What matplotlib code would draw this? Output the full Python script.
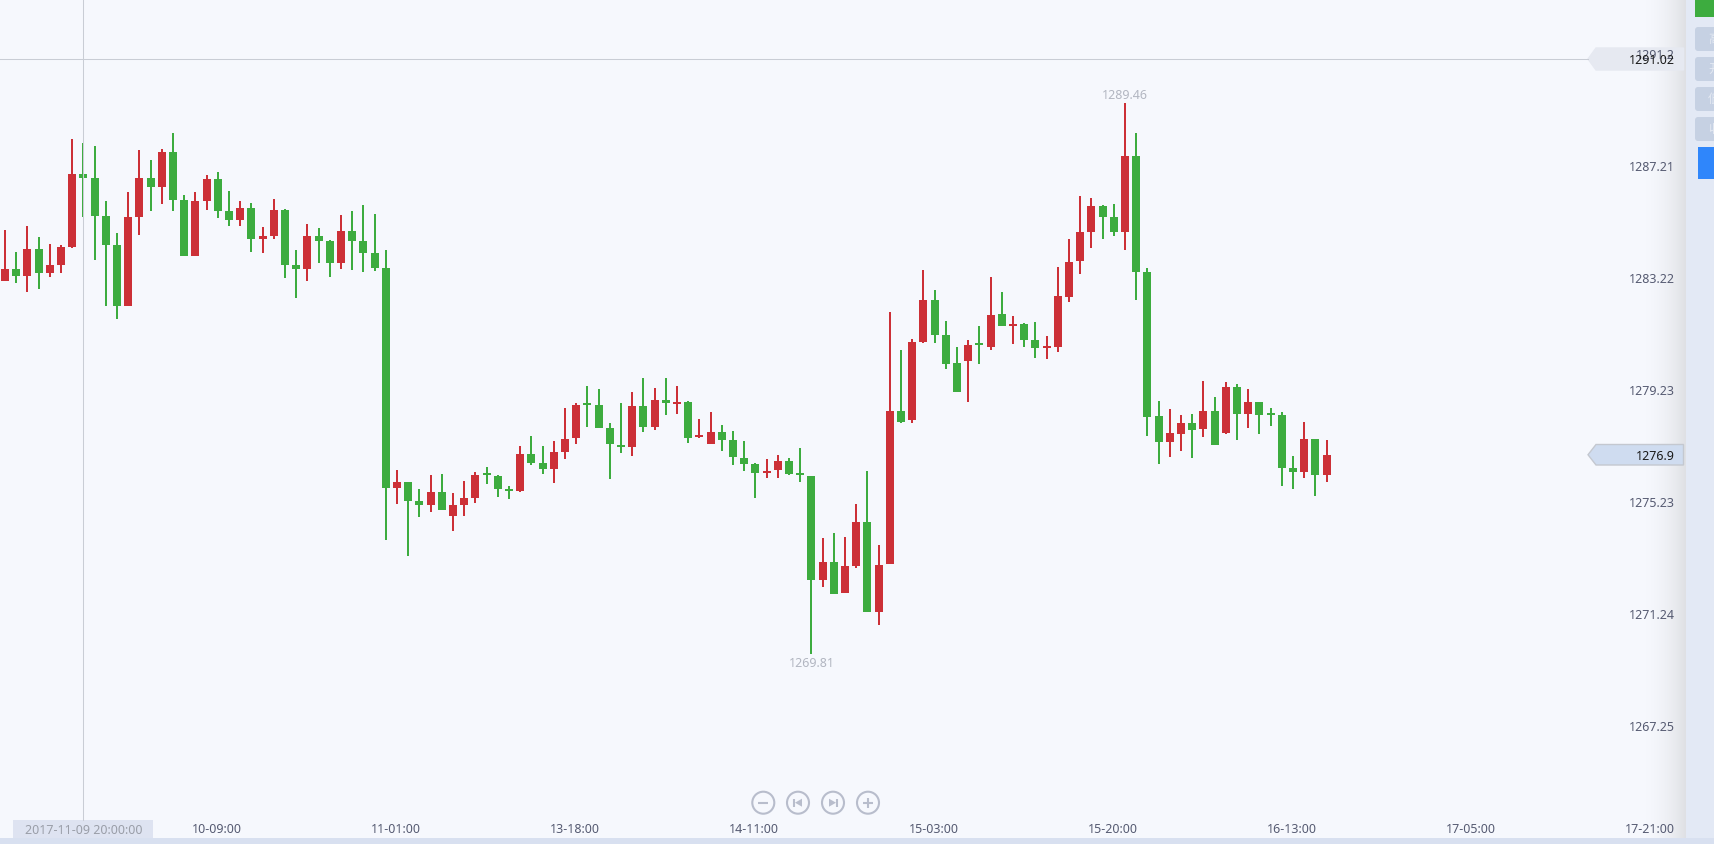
import numpy as np
import matplotlib
matplotlib.use("Agg")
import matplotlib.pyplot as plt
from matplotlib.patches import Rectangle, Polygon, Ellipse, FancyBboxPatch
from matplotlib.transforms import Affine2D

W, H = 1715, 844

highs = [
 1284.93,1284.15,1285.07,1284.68,1284.43,1284.40,1288.17,1288.03,1287.92,1285.96,
 1284.82,1286.28,1287.78,1287.42,1287.82,1288.39,1286.18,1286.28,1286.89,1287.00,
 1286.32,1285.96,1285.89,1285.04,1286.03,1285.68,1284.22,1285.14,1285.00,1284.57,
 1285.46,1285.61,1285.82,1285.50,1284.22,1276.38,1275.95,1275.70,1276.20,1276.24,
 1275.56,1275.99,1276.31,1276.49,1276.20,1275.81,1277.24,1277.59,1277.24,1277.41,
 1278.59,1278.77,1279.37,1279.27,1278.06,1278.77,1279.16,1279.66,1279.30,1279.66,
 1279.37,1278.84,1278.20,1278.45,1277.98,1277.77,1277.41,1276.63,1276.77,1276.92,
 1276.81,1277.16,1276.17,1273.96,1274.14,1273.99,1275.17,1276.34,1273.71,1282.01,
 1280.66,1281.05,1283.51,1282.79,1281.69,1280.76,1281.01,1281.51,1283.26,1282.72,
 1281.87,1281.62,1281.65,1281.15,1283.61,1284.61,1286.14,1286.07,1285.82,1285.86,
 1289.46,1288.39,1283.58,1278.84,1278.55,1278.34,1278.38,1279.55,1278.98,1279.52,
 1279.44,1279.27,1278.80,1278.59,1278.45,1276.88,1278.09,1277.48,1277.45]
body_tops = [
 1283.54,1283.54,1284.25,1284.25,1283.68,1284.32,1286.93,1286.93,1286.78,1285.43,
 1284.40,1285.39,1286.78,1286.78,1287.71,1287.71,1286.00,1285.96,1286.75,1286.75,
 1285.61,1285.71,1285.71,1284.72,1285.64,1285.64,1283.68,1284.72,1284.72,1284.54,
 1284.89,1284.89,1284.54,1284.11,1283.58,1275.95,1275.95,1275.28,1275.60,1275.60,
 1275.13,1275.38,1276.20,1276.27,1276.17,1275.70,1276.95,1276.95,1276.63,1277.02,
 1277.49,1278.70,1278.77,1278.70,1277.88,1277.27,1278.66,1278.66,1278.87,1278.87,
 1278.80,1278.80,1277.63,1277.73,1277.73,1277.45,1276.81,1276.59,1276.35,1276.70,
 1276.70,1276.27,1276.17,1273.10,1273.10,1272.96,1274.53,1274.53,1273.00,1278.48,
 1278.48,1280.94,1282.44,1282.44,1281.19,1280.19,1280.83,1280.91,1281.90,1281.94,
 1281.58,1281.58,1281.01,1280.80,1282.58,1283.79,1284.86,1285.79,1285.79,1285.39,
 1287.57,1287.57,1283.43,1278.30,1277.70,1278.05,1278.05,1278.48,1278.48,1279.34,
 1279.34,1278.80,1278.80,1278.41,1278.34,1276.45,1277.48,1277.48,1276.92]
body_bottoms = [
 1283.11,1283.29,1283.29,1283.40,1283.40,1283.68,1284.32,1286.78,1285.43,1284.40,
 1282.22,1282.22,1285.39,1286.46,1286.46,1286.00,1284.00,1284.00,1285.96,1285.61,
 1285.29,1285.29,1284.61,1284.61,1284.72,1283.68,1283.54,1283.54,1284.54,1283.75,
 1283.75,1284.54,1284.11,1283.58,1275.74,1275.74,1275.28,1275.13,1275.13,1274.96,
 1274.74,1275.13,1275.38,1276.20,1275.70,1275.63,1275.63,1276.63,1276.42,1276.42,
 1277.02,1277.52,1278.70,1277.88,1277.31,1277.20,1277.20,1277.91,1277.91,1278.77,
 1278.73,1277.52,1277.56,1277.31,1277.45,1276.84,1276.59,1276.27,1276.27,1276.38,
 1276.24,1276.20,1272.46,1272.46,1271.96,1272.00,1272.96,1271.32,1271.32,1273.03,
 1278.09,1278.16,1280.94,1281.19,1280.16,1279.16,1280.26,1280.83,1280.76,1281.51,
 1281.51,1281.01,1280.73,1280.73,1280.76,1282.54,1283.83,1284.86,1285.39,1284.86,
 1284.86,1283.43,1278.27,1277.38,1277.38,1277.66,1277.81,1277.84,1277.27,1277.70,
 1278.38,1278.38,1278.34,1278.34,1276.45,1276.31,1276.31,1276.20,1276.20]
lows = [
 1283.11,1283.04,1282.72,1282.83,1283.26,1283.40,1284.29,1285.39,1283.86,1282.22,
 1281.76,1282.22,1284.75,1285.61,1285.86,1285.61,1284.00,1284.00,1285.64,1285.36,
 1285.07,1285.07,1284.15,1284.11,1284.61,1283.22,1282.51,1283.11,1283.75,1283.26,
 1283.54,1283.51,1283.43,1283.47,1273.89,1275.17,1273.32,1274.71,1274.88,1274.96,
 1274.21,1274.74,1275.21,1275.88,1275.42,1275.35,1275.60,1276.56,1276.24,1275.92,
 1276.77,1277.31,1277.91,1277.88,1276.06,1276.99,1276.88,1277.73,1277.81,1278.34,
 1278.38,1277.34,1277.52,1277.31,1277.06,1276.56,1276.35,1275.38,1276.10,1276.10,
 1276.20,1275.95,1269.81,1272.21,1271.96,1272.00,1272.89,1271.32,1270.86,1273.03,
 1278.05,1278.05,1280.91,1280.91,1279.98,1279.16,1278.80,1280.16,1280.66,1281.51,
 1280.87,1280.76,1280.37,1280.33,1280.58,1282.37,1283.36,1284.29,1284.61,1284.72,
 1284.22,1282.44,1277.59,1276.59,1276.84,1277.06,1276.81,1277.56,1277.27,1277.66,
 1277.45,1277.88,1277.66,1277.95,1275.81,1275.70,1276.10,1275.45,1275.95]
directions = ("RGRGRRRGGG" "GRRGRGGRRG" "GRGRRGGRGG" "RGGGGRGGRG" "RRRGGGRGGR"
              "RRGGGGRGRG" "RGRRGGGGRR" "GGGRGRRGRR" "GRRGGGRGRG" "RGGRRRRRGG"
              "RGGGRRGRGR" "GRGGGGRGR")

y_ticks = [1291.2, 1287.21, 1283.22, 1279.23, 1275.23, 1271.24, 1267.25]
y_labels = ["1291.2", "1287.21", "1283.22", "1279.23", "1275.23", "1271.24", "1267.25"]
x_tick_pos = [19, 35, 51, 67, 83, 99, 115, 131, 147]
x_labels = ["10-09:00", "11-01:00", "13-18:00", "14-11:00", "15-03:00",
            "15-20:00", "16-13:00", "17-05:00", "17-21:00"]
side_labels = ["高", "开", "低", "收"]
cross_price = 1291.02
last_price = 1276.9
cross_index = 7
cross_time = "2017-11-09 20:00:00"

BG = "#f6f8fd"
RED = "#cc3037"
GREEN = "#3dac3f"
TXT = "#565b72"
FS = 9.0
plt.rcParams["font.family"] = ["Noto Sans", "Noto Sans CJK SC", "DejaVu Sans"]

fig = plt.figure(figsize=(W / 100, H / 100), dpi=100, facecolor=BG)
ax = fig.add_axes([0, 0, 1, 1], facecolor=BG)
for s in ax.spines.values():
    s.set_visible(False)

PX_PER_BAR = 11.2
PX_PER_UNIT = 28.07
x0, y0 = 5.0, 1293.124
xlim = (-x0 / PX_PER_BAR, (W - x0) / PX_PER_BAR)
ylim = (y0 - H / PX_PER_UNIT, y0)


def X(p):
    return p / W


def Y(p):
    return 1 - p / H


def rect(x1, y1, x2, y2, color, z=1.0, **kw):
    ax.add_patch(Rectangle((X(x1), Y(y2)), (x2 - x1) / W, (y2 - y1) / H,
                           transform=ax.transAxes, facecolor=color, edgecolor="none",
                           zorder=z, clip_on=False, **kw))


idx = np.arange(len(highs))
colors = [RED if d == "R" else GREEN for d in directions]
ax.vlines(idx, lows, highs, colors=colors, linewidth=2 * 0.72, zorder=2, antialiased=False)
ax.bar(idx, np.array(body_tops) - np.array(body_bottoms), bottom=body_bottoms,
       width=8 / PX_PER_BAR, color=colors, linewidth=0, zorder=2.1, antialiased=False)

ax.set_xlim(*xlim)
ax.set_ylim(*ylim)

# right side shade and panel
grad = np.zeros((1, 64, 4))
grad[..., :3] = 0.55
grad[..., 3] = np.linspace(0, 1, 64) ** 2 * 0.22
ax.imshow(grad, extent=(X(1640), X(1686), Y(838), 1), transform=ax.transAxes,
          aspect="auto", zorder=0.5, interpolation="bilinear")
ax.set_xlim(*xlim)
ax.set_ylim(*ylim)
rect(1686, 0, 1715, 844, "#e3e9f5", z=0.8)
rect(0, 838, 1715, 844, "#d8e0f0", z=0.9)

rect(1695, 0, 1715, 17, GREEN, z=1)
px_to_axes = Affine2D().scale(1 / W, 1 / H) + ax.transAxes
for k, lab in enumerate(side_labels):
    top = 27 + 30 * k
    ax.add_patch(FancyBboxPatch((1695, H - top - 24), 30, 24,
                                boxstyle="round,pad=0,rounding_size=3",
                                facecolor="#c6d1e3", edgecolor="none",
                                transform=px_to_axes, zorder=1))
    ax.text(X(1708), Y(top + 12), lab, transform=ax.transAxes, color="#e4e9f2", fontsize=8.8,
            ha="left", va="center", family=["Noto Sans CJK SC"], zorder=3)
rect(1698, 147, 1715, 179, "#2f86fb", z=1)

# crosshair
ax.plot([cross_index + 0.005, cross_index + 0.005], [y0 - 820 / PX_PER_UNIT, y0], color="#c9cdd5", lw=0.75, zorder=2.4)
ax.plot([xlim[0], (1588 - x0) / PX_PER_BAR], [cross_price, cross_price], color="#c9cdd5", lw=0.75, zorder=2.4)


# price tags
def tag(ytop, ybot, face, edge):
    ym = (ytop + ybot) / 2
    pts = [(1588, ym), (1596, ytop), (1683.5, ytop), (1683.5, ybot), (1596, ybot)]
    ax.add_patch(Polygon([(X(a), Y(b)) for a, b in pts], closed=True, transform=ax.transAxes,
                         facecolor=face, edgecolor=edge, linewidth=1.0, zorder=1.5))


tag(48, 70, "#e6e9f1", "#e6e9f1")
ax.text(X(1675), Y(60), f"{cross_price:.2f}", transform=ax.transAxes, ha="right", va="center",
        color="#1a1a1a", fontsize=FS, zorder=4)
tag(444.5, 465, "#cfdcf0", "#c4c8d0")
ax.text(X(1675), Y(456), f"{last_price:.1f}", transform=ax.transAxes, ha="right", va="center",
        color="#1a1a1a", fontsize=FS, zorder=4)

# extremes
imax, imin = int(np.argmax(highs)), int(np.argmin(lows))
ax.annotate(f"{highs[imax]:.2f}", (imax, highs[imax]), xytext=(0, 0.5 * 0.72), textcoords="offset points",
            ha="center", va="bottom", fontsize=FS, color="#b2b6c1", zorder=3)
ax.annotate(f"{lows[imin]:.2f}", (imin, lows[imin]), xytext=(0, -3 * 0.72), textcoords="offset points",
            ha="center", va="top", fontsize=FS, color="#b2b6c1", zorder=3)

# ticks
ax.set_yticks(y_ticks, y_labels)
ax.set_xticks(np.array(x_tick_pos) - 0.1, x_labels)
ax.yaxis.tick_right()
ax.tick_params(axis="y", length=0, pad=-40 * 0.72, labelsize=FS, labelcolor=TXT)
ax.tick_params(axis="x", length=0, pad=-21 * 0.72, labelsize=FS, labelcolor=TXT)
for t in ax.get_yticklabels():
    t.set_ha("right")

# crosshair time box
rect(13, 820, 153, 838, "#dee3f1", z=1)
ax.text(X(83.5), Y(830), cross_time, transform=ax.transAxes, ha="center", va="center",
        fontsize=FS, color="#9a9ea8", zorder=3)

# zoom and scroll buttons
BTN = "#b8bdcc"
cy = 802.7
centres = [763.3, 798, 833, 868]
for c in centres:
    ax.add_patch(Ellipse((X(c), Y(cy)), 22 / W, 22 / H, transform=ax.transAxes, facecolor="none",
                         edgecolor=BTN, linewidth=1.5, zorder=3))


def seg(a, b, c, d):
    ax.plot([X(a), X(c)], [Y(b), Y(d)], transform=ax.transAxes, color=BTN, lw=1.5, zorder=3,
            solid_capstyle="butt")


seg(centres[0] - 5, cy, centres[0] + 5, cy)
seg(centres[3] - 5, cy, centres[3] + 5, cy)
seg(centres[3], cy - 5, centres[3], cy + 5)
seg(centres[1] - 4, cy - 4, centres[1] - 4, cy + 4)
seg(centres[2] + 4, cy - 4, centres[2] + 4, cy + 4)
ax.add_patch(Polygon([(X(centres[1] - 3), Y(cy)), (X(centres[1] + 4), Y(cy - 4)), (X(centres[1] + 4), Y(cy + 4))],
                     transform=ax.transAxes, facecolor=BTN, edgecolor="none", zorder=3))
ax.add_patch(Polygon([(X(centres[2] + 3), Y(cy)), (X(centres[2] - 4), Y(cy - 4)), (X(centres[2] - 4), Y(cy + 4))],
                     transform=ax.transAxes, facecolor=BTN, edgecolor="none", zorder=3))

fig.savefig("out.png", dpi=100, facecolor=BG)
